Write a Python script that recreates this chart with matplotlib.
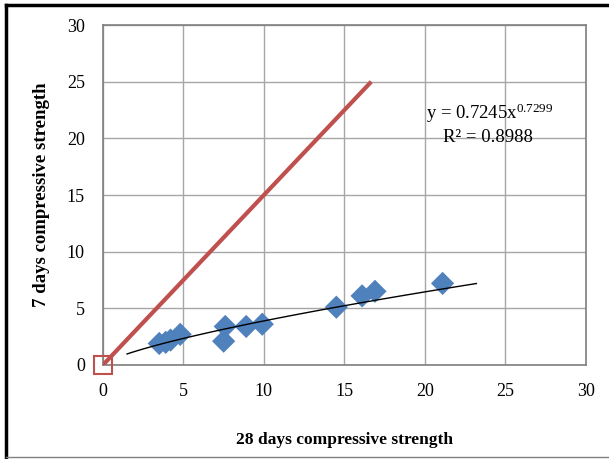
import matplotlib
matplotlib.use("Agg")
import matplotlib.pyplot as plt
from matplotlib.lines import Line2D
import numpy as np

plt.rcParams['font.family'] = ['Liberation Serif', 'DejaVu Serif']
plt.rcParams['mathtext.fontset'] = 'custom'
plt.rcParams['mathtext.rm'] = 'Liberation Serif'
plt.rcParams['mathtext.it'] = 'Liberation Serif:italic'

# data
x28 = [3.5, 3.9, 4.2, 4.8, 7.5, 7.6, 8.9, 9.9, 14.5, 16.1, 16.9, 21.1]
y7 = [1.9, 2.0, 2.2, 2.7, 2.1, 3.4, 3.4, 3.6, 5.1, 6.1, 6.5, 7.2]
fit_a, fit_b = 0.7245, 0.7299
fit_range = [1.5, 23.2]
ref_x = [0, 16.67]
ref_y = [0, 25]
ticks = [0, 5, 10, 15, 20, 25, 30]

fig = plt.figure(figsize=(6.09, 4.59), dpi=100)
ax = fig.add_axes([0.169, 0.2048, 0.793, 0.7407])

blue = '#4F81BD'
red = '#C0504D'

ax.plot(ref_x, ref_y, color=red, lw=3, solid_capstyle='butt', zorder=3)
ax.scatter(x28, y7, marker='D', s=140, color=blue, edgecolors='none', zorder=4)
xf = np.linspace(fit_range[0], fit_range[1], 100)
ax.plot(xf, fit_a * xf ** fit_b, color='black', lw=1, zorder=5)
ax.plot([0], [0], marker='s', ms=13.5, mfc='none', mec=red, mew=1.5, zorder=6, clip_on=False)

ax.set_xlim(0, 30)
ax.set_ylim(0, 30)
ax.set_xticks(ticks)
ax.set_yticks(ticks)
ax.grid(True, color='#A6A6A6', lw=1)
ax.set_axisbelow(True)
ax.tick_params(length=0, labelsize=13, pad=13, colors='black')
for s in ax.spines.values():
    s.set_color('#7F7F7F')
    s.set_linewidth(1.2)

ax.set_xlabel('28 days compressive strength', fontsize=12.5, fontweight='bold', labelpad=23)
ax.set_ylabel('7 days compressive strength', fontsize=13.5, fontweight='bold', labelpad=12)

ax.text(20.1, 22.2, r'y = 0.7245x$^{\mathrm{0.7299}}$', fontsize=13.5, ha='left', va='center')
ax.text(23.9, 20.1, 'R² = 0.8988', fontsize=13.5, ha='center', va='center')

# outer frame
fig.add_artist(Line2D([6/609, 6/609], [0, 1 - 5/459], transform=fig.transFigure, color='black', lw=2.5))
fig.add_artist(Line2D([6/609, 1], [1 - 5/459, 1 - 5/459], transform=fig.transFigure, color='black', lw=2.5))
fig.add_artist(Line2D([6/609, 1], [2/459, 2/459], transform=fig.transFigure, color='#808080', lw=1))

fig.savefig('out.png', dpi=100)
